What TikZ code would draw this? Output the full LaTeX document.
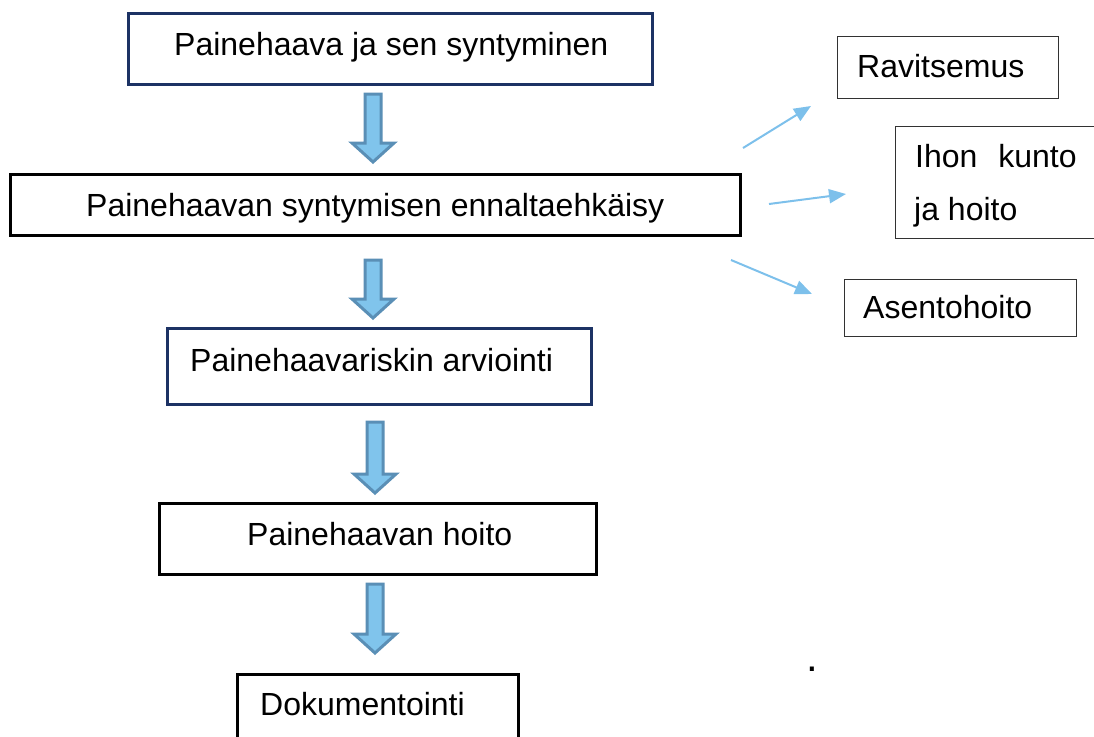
\documentclass[tikz,border=0pt]{standalone}
\usepackage{fontspec}
\setmainfont{Liberation Sans}
\usetikzlibrary{arrows.meta}
\definecolor{navy}{RGB}{28,50,100}
\definecolor{sideblue}{RGB}{125,192,235}
\definecolor{afill}{RGB}{128,196,236}
\definecolor{aedge}{RGB}{90,143,182}
\definecolor{thingray}{RGB}{50,50,50}
\tikzset{
  thickbox/.style={draw=black, line width=3pt, inner sep=0pt, anchor=north west},
  navybox/.style={thickbox, draw=navy},
  thinbox/.style={draw=thingray, line width=1.3pt, inner sep=0pt, anchor=north west},
  lbl/.style={inner sep=0pt, anchor=base west, font=\fontsize{32}{38}\selectfont},
  sidearrow/.style={draw=sideblue, line width=2pt, -{Triangle[length=17pt,width=14pt]}},
  blockarrow/.style={fill=afill, draw=aedge, line width=3pt, line join=miter},
}
\newcommand\blockarr[3]{%
  \draw[blockarrow] (#1-8,#2) -- (#1+8,#2) -- (#1+8,#3-19) -- (#1+21,#3-19)
    -- (#1,#3) -- (#1-21,#3-19) -- (#1-8,#3-19) -- cycle;}
\begin{document}
\begin{tikzpicture}[x=1pt,y=-1pt]
\useasboundingbox (0,0) rectangle (1094,736);
% main boxes
\node[navybox, minimum width=524pt, minimum height=71pt] (b1) at (127,12) {};
\node[thickbox, minimum width=730pt, minimum height=61pt] (b2) at (9,173) {};
\node[navybox, minimum width=424pt, minimum height=76pt] (b3) at (166,327) {};
\node[thickbox, minimum width=437pt, minimum height=71pt] (b4) at (158,502) {};
\node[thickbox, minimum width=281pt, minimum height=80pt] (b5) at (236,673) {};
% side boxes
\node[thinbox, minimum width=220.7pt, minimum height=61.7pt] (r1) at (837,36) {};
\node[thinbox, minimum width=210pt, minimum height=111.7pt] (r2) at (895,126) {};
\node[thinbox, minimum width=231.7pt, minimum height=56.7pt] (r3) at (844,279) {};
% labels
\node[lbl] (t1) at (174,55) {Painehaava ja sen syntyminen};
\node[lbl] (t2) at (86,216) {Painehaavan syntymisen ennaltaehkäisy};
\node[lbl] (t3) at (190,371) {Painehaavariskin arviointi};
\node[lbl] (t4) at (247,545) {Painehaavan hoito};
\node[lbl] (t5) at (260,715) {Dokumentointi};
\node[lbl] (s1) at (857,77) {Ravitsemus};
\node[lbl] (s2a) at (915,167) {Ihon\hspace{12pt} kunto};
\node[lbl] (s2b) at (914,220) {ja hoito};
\node[lbl] (s3) at (863,318) {Asentohoito};
\node[lbl, font=\fontsize{42}{48}\selectfont] (dot) at (806,671) {.};
% block arrows between main boxes
\blockarr{373}{94}{162}
\blockarr{373}{260}{318}
\blockarr{375}{422}{493}
\blockarr{375}{584}{653}
% side arrows
\coordinate (a1s) at (743,148);
\coordinate (a1e) at (811,106);
\coordinate (a2s) at (769,204);
\coordinate (a2e) at (846,194);
\coordinate (a3s) at (731,260);
\coordinate (a3e) at (812,294);
\draw[sidearrow] (a1s) -- (a1e);
\draw[sidearrow] (a2s) -- (a2e);
\draw[sidearrow] (a3s) -- (a3e);
\end{tikzpicture}
\end{document}
